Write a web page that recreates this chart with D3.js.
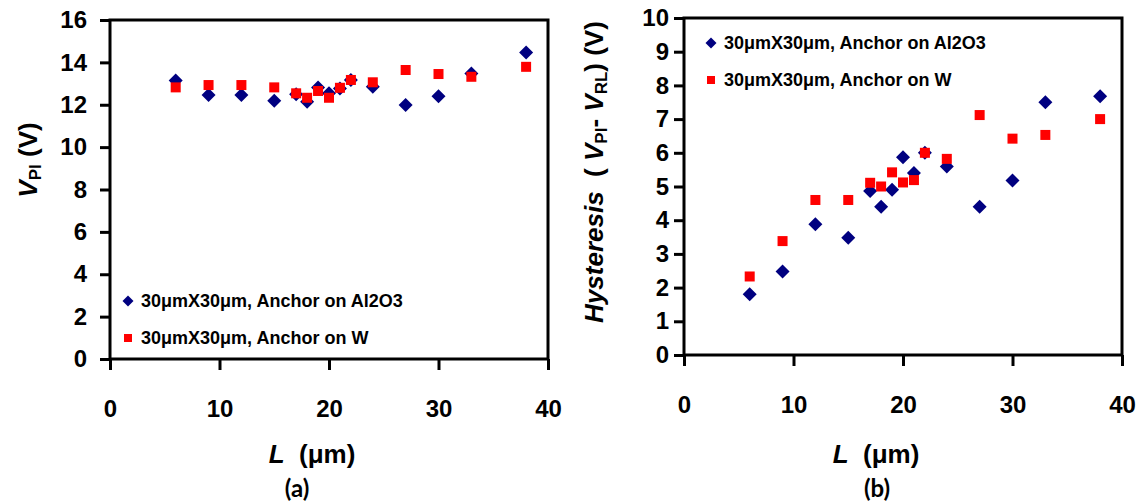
<!DOCTYPE html>
<html><head><meta charset="utf-8">
<script src="https://cdn.jsdelivr.net/npm/d3@7"></script>
<style>
html,body{margin:0;padding:0;background:#fff;}
svg{display:block;font-family:"Liberation Sans",Arial,sans-serif;}
</style></head>
<body>
<svg id="chart" width="1141" height="502"></svg>
<script>
const lengths = [6, 9, 12, 15, 17, 18, 19, 20, 21, 22, 24, 27, 30, 33, 38];
const vpiAl2O3 = [13.15, 12.46, 12.46, 12.19, 12.5, 12.14, 12.82, 12.54, 12.77, 13.17, 12.85, 11.99, 12.4, 13.48, 14.47];
const vpiW     = [12.82, 12.93, 12.93, 12.82, 12.54, 12.33, 12.65, 12.33, 12.8, 13.17, 13.06, 13.64, 13.45, 13.32, 13.79];
const hystAl2O3 = [1.8, 2.48, 3.88, 3.48, 4.87, 4.4, 4.9, 5.87, 5.4, 6.0, 5.59, 4.4, 5.18, 7.5, 7.68];
const hystW     = [2.33, 3.38, 4.6, 4.6, 5.11, 5.0, 5.42, 5.12, 5.19, 6.0, 5.82, 7.12, 6.42, 6.53, 7.0];
const xTicks = [0, 10, 20, 30, 40];
const vpiTicks = [0, 2, 4, 6, 8, 10, 12, 14, 16];
const hystTicks = [0, 1, 2, 3, 4, 5, 6, 7, 8, 9, 10];
const seriesNames = ["30\u03bcmX30\u03bcm, Anchor on Al2O3", "30\u03bcmX30\u03bcm, Anchor on W"];

const svg = d3.select("#chart");
const NAVY = "#000080", RED = "#ff0000";

function panel(cfg) {
  const x = d3.scaleLinear().domain([0, 40]).range([cfg.x0, cfg.x1]);
  const y = d3.scaleLinear().domain([0, cfg.ymax]).range([cfg.y0, cfg.y1]);
  const g = svg.append("g");

  const ya = g.append("g").attr("transform", `translate(${cfg.x0},0)`)
    .call(d3.axisLeft(y).tickValues(cfg.yTicks).tickSize(10).tickPadding(cfg.yPad).tickFormat(d3.format("d")));
  const xa = g.append("g").attr("transform", `translate(0,${cfg.y0})`)
    .call(d3.axisBottom(x).tickValues(xTicks).tickSize(11).tickPadding(30).tickFormat(d3.format("d")));
  [ya, xa].forEach(a => {
    a.attr("font-family", null).attr("font-size", null);
    a.select(".domain").remove();
    a.selectAll(".tick line").attr("stroke", "#000").attr("stroke-width", 3);
    a.selectAll(".tick text").attr("fill", "#000").attr("font-size", 24).attr("font-weight", "bold")
      .attr("font-family", "'Liberation Sans', Arial, sans-serif");
  });
  g.append("rect").attr("x", cfg.x0).attr("y", cfg.y1).attr("width", cfg.x1 - cfg.x0).attr("height", cfg.y0 - cfg.y1)
    .attr("fill", "none").attr("stroke", "#000").attr("stroke-width", 3);

  const ds = 14, ss = 10;
  const diamond = (cx, cy, s) => `M${cx},${cy - s/2}L${cx + s/2},${cy}L${cx},${cy + s/2}L${cx - s/2},${cy}Z`;
  g.append("g").selectAll("path").data(lengths.map((l, i) => [l, cfg.a[i]])).join("path")
    .attr("d", d => diamond(x(d[0]), y(d[1]), ds)).attr("fill", NAVY);
  g.append("g").selectAll("rect").data(lengths.map((l, i) => [l, cfg.w[i]])).join("rect")
    .attr("x", d => x(d[0]) - ss/2).attr("y", d => y(d[1]) - ss/2).attr("width", ss).attr("height", ss).attr("fill", RED);

  const lg = g.append("g");
  lg.append("path").attr("d", diamond(cfg.lx, cfg.ly, 11)).attr("fill", NAVY);
  lg.append("rect").attr("x", cfg.lx - 4).attr("y", cfg.ly + cfg.lgap - 4).attr("width", 8).attr("height", 8).attr("fill", RED);
  seriesNames.forEach((n, i) => {
    lg.append("text").attr("x", cfg.lx + 13).attr("y", cfg.ly + i * cfg.lgap).attr("dy", "0.36em")
      .attr("font-size", 18).attr("font-weight", "bold").attr("fill", "#000").text(n);
  });

  const xt = g.append("text").attr("x", cfg.xtX).attr("y", 463).attr("text-anchor", "middle")
    .attr("font-size", 26).attr("font-weight", "bold").attr("fill", "#000");
  xt.append("tspan").attr("font-style", "italic").text("L");
  xt.append("tspan").text("\u00a0 (\u03bcm)");
  g.append("text").attr("x", cfg.pX).attr("y", 497).attr("text-anchor", "middle")
    .attr("font-size", 24).attr("font-weight", "bold").attr("font-family", "Lato, 'Open Sans', sans-serif")
    .attr("fill", "#000").text(cfg.panel);
  return g;
}

panel({x0: 110, x1: 548, y0: 359, y1: 20, ymax: 16, yTicks: vpiTicks, yPad: 13,
  a: vpiAl2O3, w: vpiW, lx: 128, ly: 301, lgap: 37, xtX: 312, pX: 297, panel: "(a)"});
panel({x0: 684, x1: 1122, y0: 355, y1: 18, ymax: 10, yTicks: hystTicks, yPad: 5,
  a: hystAl2O3, w: hystW, lx: 711, ly: 43, lgap: 37, xtX: 876, pX: 877, panel: "(b)"});

const ytA = svg.append("text").attr("transform", "translate(37,160) rotate(-90)").attr("text-anchor", "middle")
  .attr("font-size", 26).attr("font-weight", "bold").attr("fill", "#000");
ytA.append("tspan").attr("font-style", "italic").text("V");
ytA.append("tspan").attr("font-size", 17).attr("dy", 4).text("PI");
ytA.append("tspan").attr("dy", -4).text("\u00a0(V)");

const ytB = svg.append("text").attr("transform", "translate(603,172) rotate(-90)").attr("text-anchor", "middle")
  .attr("font-size", 26).attr("font-weight", "bold").attr("fill", "#000");
ytB.append("tspan").attr("font-style", "italic").text("Hysteresis");
ytB.append("tspan").text("\u00a0 (\u00a0");
ytB.append("tspan").attr("font-style", "italic").text("V");
ytB.append("tspan").attr("font-size", 17).attr("dy", 4).text("PI");
ytB.append("tspan").attr("dy", -4).text("- ");
ytB.append("tspan").attr("font-style", "italic").text("V");
ytB.append("tspan").attr("font-size", 17).attr("dy", 4).text("RL");
ytB.append("tspan").attr("dy", -4).text(") (V)");
</script>
</body></html>
